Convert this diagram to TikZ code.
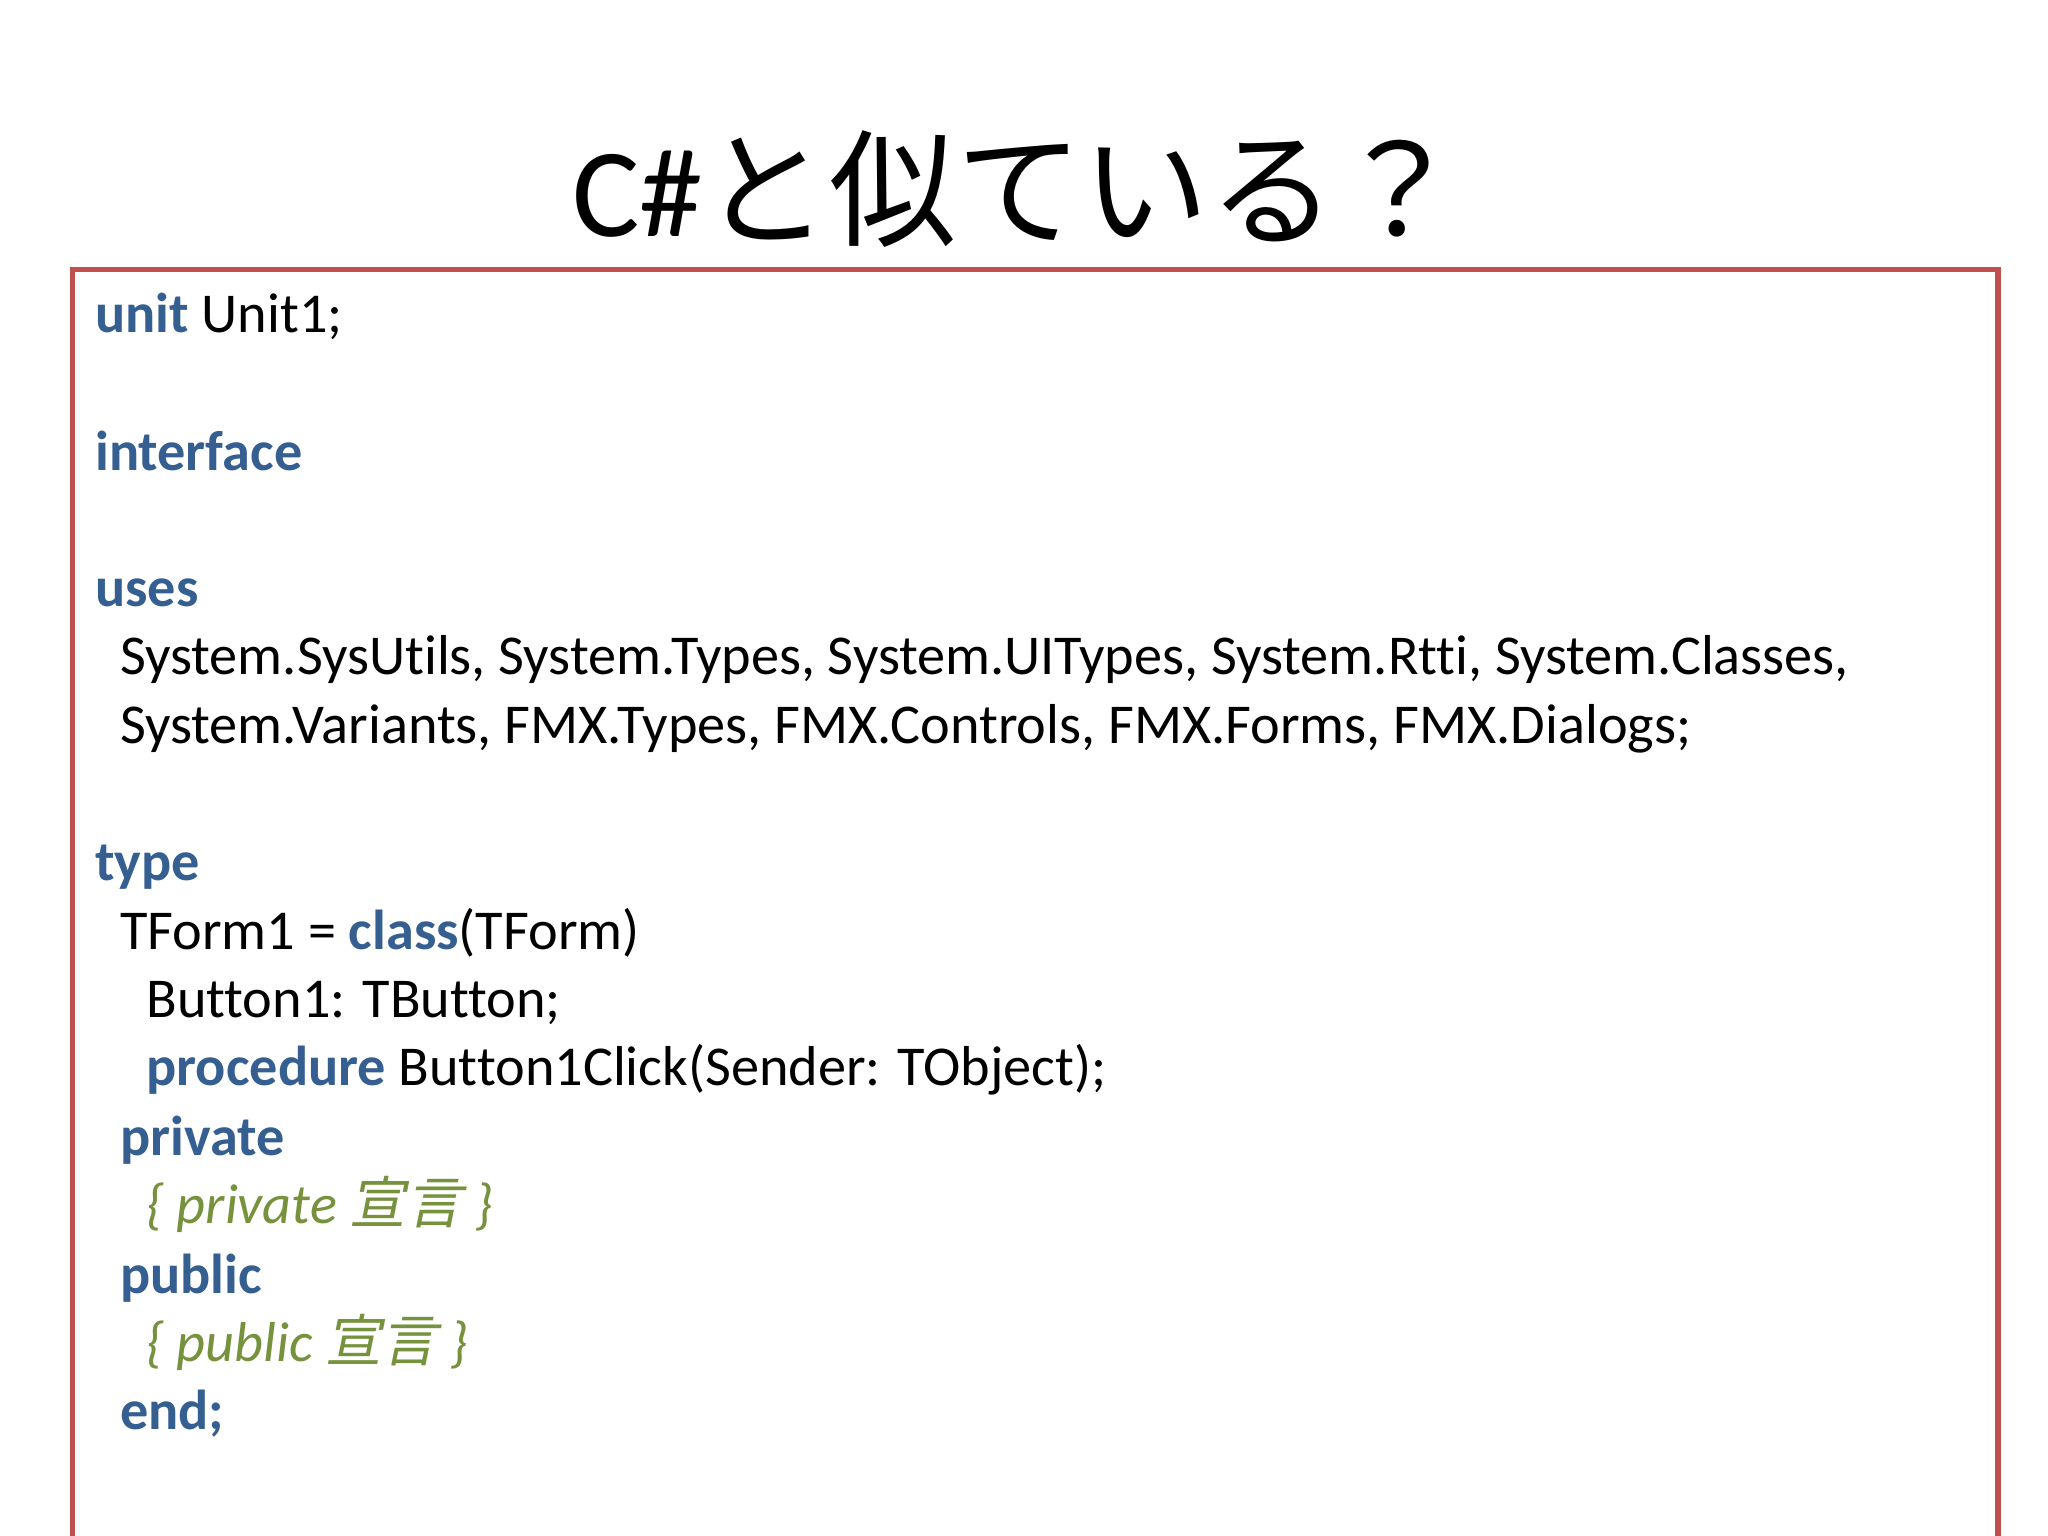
\documentclass[tikz,border=0pt]{standalone}
\usepackage{fontspec}
\setmainfont[Ligatures=NoCommon]{Carlito}
\newfontfamily\cjk{Noto Sans CJK JP}
\newfontfamily\cjkit[FakeSlant=0.2]{Noto Sans CJK JP}
\definecolor{kw}{HTML}{365F91}
\definecolor{cm}{HTML}{76923C}
\definecolor{bx}{HTML}{C0504D}
\newcommand{\K}[1]{{\bfseries\color{kw}#1}}
\begin{document}
\begin{tikzpicture}[x=0.013128cm,y=-0.013128cm,
  ln/.style={anchor=base west,inner sep=0pt,font=\fontsize{16}{19}\selectfont}]
\useasboundingbox (0,0) rectangle (1560,1170);
\fill[white] (0,0) rectangle (1560,1170);
\node[anchor=base,inner sep=0pt,font=\fontsize{36}{42}\selectfont] (title) at (775,180) {C\#{\cjk と似ている？}};
\draw[bx,line width=1.5pt] (55,205) rectangle (1522,1172);
\node[ln] (l1) at (72,253) {\K{unit} Unit1;};
\node[ln] (l2) at (72,358) {\K{interface}};
\node[ln] (l3) at (72,462) {\K{uses}};
\node[ln] (l4) at (91,514) {System.SysUtils, System.Types, System.UITypes, System.Rtti, System.Classes,};
\node[ln] (l5) at (91,566) {System.Variants, FMX.Types, FMX.Controls, FMX.Forms, FMX.Dialogs;};
\node[ln] (l6) at (72,671) {\K{type}};
\node[ln] (l7) at (91,723) {TForm1 = \K{class}(TForm)};
\node[ln] (l8) at (111,775) {Button1: TButton;};
\node[ln] (l9) at (111,827) {\K{procedure} Button1Click(Sender: TObject);};
\node[ln] (l10) at (91,880) {\K{private}};
\node[ln,text=cm] (l11) at (111,932) {\itshape \{ private {\cjkit 宣言} \}};
\node[ln] (l12) at (91,985) {\K{public}};
\node[ln,text=cm] (l13) at (111,1037) {\itshape \{ public {\cjkit 宣言} \}};
\node[ln] (l14) at (91,1089) {\K{end;}};
\end{tikzpicture}
\end{document}
